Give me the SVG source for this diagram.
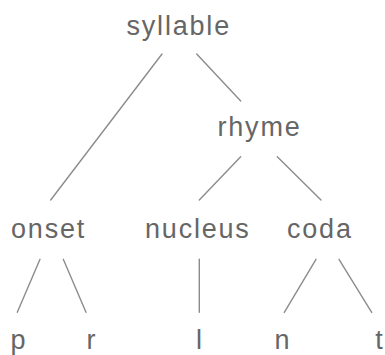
<svg xmlns="http://www.w3.org/2000/svg" width="385" height="355" viewBox="0 0 385 355">
<style>
text{font-family:"Liberation Sans",Arial,sans-serif;font-size:27px;fill:#666;letter-spacing:1.8px}
.c line{stroke:#8c8c8c;stroke-width:1.4;stroke-linecap:round}
</style>
<rect width="385" height="355" fill="#fff"/>
<g class="c" id="connectors">
<line x1="162" y1="54" x2="50.7" y2="200"/>
<line x1="196.7" y1="54" x2="240.7" y2="101"/>
<line x1="240.7" y1="156.7" x2="199.3" y2="200"/>
<line x1="277.3" y1="156.7" x2="321" y2="200"/>
<line x1="40" y1="259.3" x2="17.3" y2="312.3"/>
<line x1="63.3" y1="259.3" x2="86" y2="312.3"/>
<line x1="199.3" y1="259.3" x2="199.3" y2="312.3"/>
<line x1="316" y1="259.3" x2="284.3" y2="312.3"/>
<line x1="339" y1="259.3" x2="371.7" y2="312.3"/>
</g>
<g id="syllable"><text x="126.5" y="34.5">syllable</text></g>
<g id="rhyme"><text x="217.5" y="136">rhyme</text></g>
<g id="onset"><text x="11" y="238">onset</text></g>
<g id="nucleus"><text x="145" y="238">nucleus</text></g>
<g id="coda"><text x="287" y="238">coda</text></g>
<g id="p"><text x="10.5" y="349">p</text></g>
<g id="r"><text x="86.5" y="349">r</text></g>
<g id="l"><text x="196" y="349">l</text></g>
<g id="n"><text x="274.5" y="349">n</text></g>
<g id="t"><text x="375.3" y="349">t</text></g>
</svg>
